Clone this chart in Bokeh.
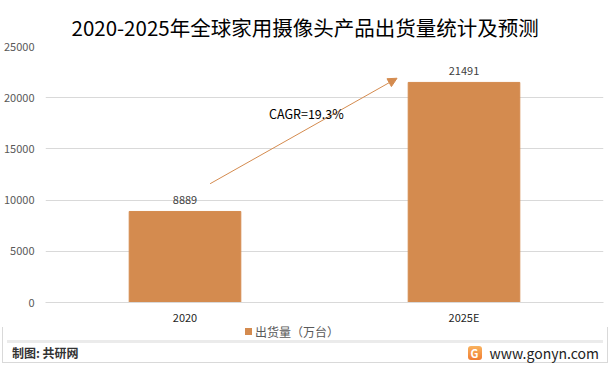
from bokeh.plotting import figure
from bokeh.layouts import column
from bokeh.models import (ColumnDataSource, Range1d, FixedTicker, Label, LabelSet,
                          Arrow, NormalHead, Div)
from bokeh.core.properties import value
from bokeh.embed import file_html
from bokeh.resources import INLINE

# ---- data ----
categories = ["2020", "2025E"]
shipments = [8889, 21491]
series_name = "出货量（万台）"
title_text = "2020-2025年全球家用摄像头产品出货量统计及预测"
cagr_text = "CAGR=19.3%"
y_ticks = [0, 5000, 10000, 15000, 20000, 25000]
footer_left = "制图: 共研网"
footer_right = "www.gonyn.com"

BAR = "#D48B4F"
FONT = "Noto Sans CJK SC"

W, H = 610, 327
xs = [i + 0.5 for i in range(len(categories))]
src = ColumnDataSource(dict(x=xs, y=shipments, lab=[str(v) for v in shipments], cat=categories))

p = figure(width=W, height=H, output_backend="svg", toolbar_location=None,
           x_range=Range1d(0, len(categories)), y_range=Range1d(0, 25000),
           min_border_left=44, min_border_right=7, min_border_top=46, min_border_bottom=25)
p.outline_line_color = None
p.background_fill_color = "white"
p.border_fill_color = "white"

bars = p.vbar(x="x", top="y", width=0.4, source=src, color=BAR)

# title
p.title.text = title_text
p.title.align = "left"
p.title.offset = 26
p.title.text_font = FONT
p.title.text_font_size = "20.5px"
p.title.text_font_style = "normal"
p.title.text_color = "#000000"

# y axis
p.yaxis.ticker = FixedTicker(ticks=y_ticks)
p.yaxis.axis_line_color = None
p.yaxis.major_tick_line_color = None
p.yaxis.minor_tick_line_color = None
p.yaxis.major_label_text_font = FONT
p.yaxis.major_label_text_font_size = "11px"
p.yaxis.major_label_text_color = "#595959"
p.yaxis.major_label_standoff = 5
p.ygrid.grid_line_color = "#D9D9D9"
p.xgrid.grid_line_color = None

# x axis
p.xaxis.ticker = FixedTicker(ticks=xs)
p.xaxis.major_label_overrides = {x: c for x, c in zip(xs, categories)}
p.xaxis.axis_line_color = "#D9D9D9"
p.xaxis.major_tick_line_color = None
p.xaxis.minor_tick_line_color = None
p.xaxis.major_label_text_font = FONT
p.xaxis.major_label_text_font_size = "11px"
p.xaxis.major_label_text_color = "#262626"
p.xaxis.major_label_standoff = 0

# value labels
p.add_layout(LabelSet(x="x", y="y", text="lab", source=src, text_align="center",
                      text_baseline="bottom", y_offset=7, text_font=value(FONT),
                      text_font_size="11px", text_color="#404040"))

# CAGR arrow
arrow_start = (0.59, 11600)
arrow_end = (1.26, 21900)
p.add_layout(Arrow(end=NormalHead(size=9, fill_color=BAR, line_color=BAR),
                   x_start=arrow_start[0], y_start=arrow_start[1],
                   x_end=arrow_end[0], y_end=arrow_end[1],
                   line_color=BAR, line_width=1))
p.add_layout(Label(x=0.935, y=18450, text=cagr_text, text_align="center",
                   text_baseline="middle", text_font=FONT, text_font_size="12.5px",
                   text_color="#000000"))

# ---- legend + footer (HTML) ----
footer_html = f"""
<div style="width:{W}px;font-family:'{FONT}';">
 <div style="height:13px;display:flex;align-items:center;padding-left:245px;box-sizing:border-box;
  position:relative;top:-2px;">
  <span style="display:inline-block;width:7px;height:7px;background:{BAR};margin-right:3px;"></span>
  <span style="font-size:12px;line-height:13px;color:#595959;">{series_name}</span>
 </div>
 <div style="box-sizing:border-box;width:596px;height:22px;margin-left:7px;
  border-top:3px solid #EBEBEB;display:flex;align-items:center;justify-content:space-between;
  padding:0 4px 0 5px;">
  <span style="font-size:12px;font-weight:bold;color:#333333;">{footer_left}</span>
  <span style="display:flex;align-items:center;">
   <span style="display:inline-block;width:14px;height:14px;border-radius:3px;
    background:linear-gradient(#F9B25E,#F07D32);color:white;font-size:11px;font-weight:bold;
    line-height:14px;text-align:center;margin-right:8px;">G</span>
   <span style="font-size:14px;color:#222222;">{footer_right}</span>
  </span>
 </div>
</div>
"""
footer = Div(text=footer_html, width=W, height=38, margin=(0, 0, 0, 0))

layout = column(p, footer, spacing=0,
                styles={"outline": "1px solid #D9D9D9", "outline-offset": "-3px"})

open("out.html", "w").write(file_html(layout, INLINE))
